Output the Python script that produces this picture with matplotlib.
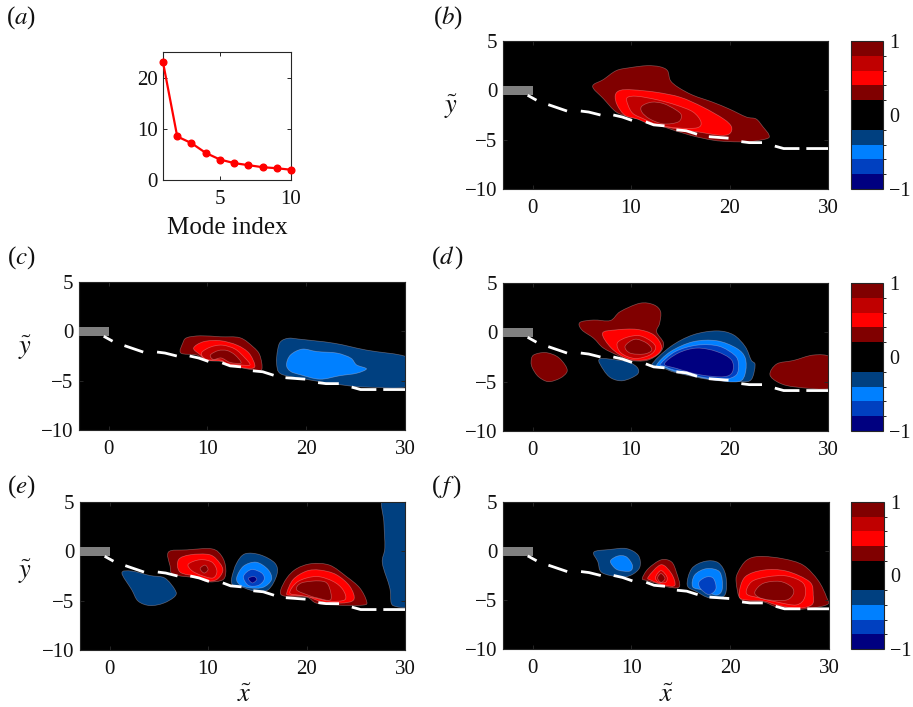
import numpy as np
import matplotlib
matplotlib.use('Agg')
import matplotlib.pyplot as plt
from matplotlib.colors import ListedColormap, BoundaryNorm
from matplotlib.cm import ScalarMappable
from matplotlib.patches import Rectangle, PathPatch
from matplotlib.path import Path

plt.rcParams['font.family'] = ['Liberation Serif', 'DejaVu Serif']
plt.rcParams['mathtext.fontset'] = 'stix'

# (a) mode spectrum
mode_index = [1, 2, 3, 4, 5, 6, 7, 8, 9, 10]
mode_energy = [23, 8.5, 7.2, 5.3, 4, 3.3, 2.9, 2.5, 2.3, 2]

# wall line, nan marks the gaps between dashes
nan = float('nan')
wall_x = [-0.5, 0.4, nan, 1.6, 3.5, nan, 4.9, 5.7, 6.9, nan, 8.2, 9.1, 10.1, nan, 11.5, 12.3, 13.4, nan,
          14.6, 15.6, 16.7, nan, 17.9, 19.9, nan, 21.2, 22, 23.3, nan, 24.6, 25.5, 27.1, nan, 27.8, 30]
wall_y = [-0.5, -1.0, nan, -1.45, -2.1, nan, -2.1, -2.2, -2.5, nan, -2.5, -2.7, -3.05, nan, -3.2, -3.5, -3.6, nan,
          -4, -4.1, -4.45, nan, -4.7, -4.85, nan, -5.2, -5.3, -5.3, nan, -5.65, -5.9, -5.9, nan, -5.9, -5.9]

# colour levels
levels = [-1, -0.8, -0.6, -0.4, -0.2, 0, 0.2, 0.4, 0.6, 0.8, 1]
level_colors = ['#000080', '#0040c0', '#0080ff', '#004080', '#000000',
                '#000000', '#800000', '#ff0000', '#c00000', '#800000']

# contour outlines (x, y), with the level they bound
b1 = [(6.1,0.4),(7.2,1.1),(8.5,2.0),(9.9,2.3),(11.6,2.5),(12.9,2.4),(13.7,2.0),(14.0,1.0),(14.8,0.3),(16.3,-0.5),(18.3,-1.2),(20,-1.9),(21.7,-2.7),(22.7,-2.9),(23.4,-3.7),(24,-4.5),(23.8,-4.9),(22,-5.2),(20,-5.2),(18.3,-5.05),(16,-4.55),(13.3,-3.7),(11.6,-3.1),(9.9,-2.7),(8.5,-2.2),(7.2,-0.85)]
b2 = [(8.4,-0.5),(8.9,0),(10.2,0.05),(12.6,-0.2),(15,-0.7),(17.3,-1.7),(19.4,-2.9),(20.2,-3.7),(20,-4.4),(19,-4.55),(16.7,-4.2),(14.3,-3.85),(11.9,-3.4),(10.6,-2.9),(9.4,-2.55),(8.6,-1.5)]
b3 = [(9.6,-0.75),(10.6,-0.6),(12.6,-0.95),(14.6,-1.5),(16.3,-2.2),(17.1,-3.2),(16.7,-3.8),(14.6,-3.8),(12.6,-3.45),(11.3,-2.9),(10.2,-2.35),(9.7,-1.5)]
b4 = [(11.1,-1.6),(12.1,-1.2),(13.3,-1.35),(14.5,-1.95),(15.1,-2.5),(14.8,-3.2),(13.3,-3.4),(11.9,-2.9),(11.1,-2.2)]
b_shapes = [b1, b2, b3, b4]
b_levels = [0.3, 0.5, 0.7, 0.9]

c1 = [(7.3,-2.2),(7.5,-1.2),(7.9,-0.65),(9.3,-0.45),(11.3,-0.55),(13.3,-0.65),(14.6,-1.55),(15.3,-2.4),(15.5,-3.85),(14.6,-3.9),(12.6,-3.5),(11.6,-3.05),(9.9,-2.95),(8.9,-2.4)]
c2 = [(8.6,-1.7),(9.6,-1.05),(11.3,-0.95),(13,-1.4),(14.2,-2.2),(14.8,-3.4),(14.5,-3.75),(13.3,-3.65),(12,-3.4),(11.5,-3.05),(9.9,-2.9),(9.3,-2.4)]
c3 = [(9.4,-2.2),(10.3,-1.6),(11.5,-1.4),(12.8,-1.8),(13.8,-2.7),(14.3,-3.4),(13.3,-3.4),(12,-3.25),(11.3,-2.9),(9.9,-2.85)]
c4 = [(10.3,-2.4),(11.1,-1.95),(12,-1.95),(12.8,-2.4),(13.4,-3.2),(12.3,-3.15),(11.4,-2.7),(10.6,-2.85)]
c5 = [(17.1,-1.9),(17.4,-1.05),(18.2,-0.7),(19.4,-0.8),(22.8,-1.2),(26.1,-1.9),(30.2,-2.6),(30.4,-4),(30.2,-5.6),(26.1,-5.65),(24.1,-5.5),(21.4,-5.1),(19.4,-4.75),(17.4,-4.3),(17,-3.25)]
c6 = [(18,-3.4),(18.4,-2.4),(19.6,-1.8),(21.1,-2.05),(23.1,-2.2),(24.5,-2.7),(25.1,-3.4),(26.1,-3.8),(25.1,-4.25),(23.4,-4.5),(21.4,-4.85),(19.4,-4.4),(18.4,-4.05)]
c_shapes = [c1, c2, c3, c4, c5, c6]
c_levels = [0.3, 0.5, 0.7, 0.9, -0.3, -0.5]

d1 = [(-0.15,-3),(0.1,-2.3),(1.3,-2.05),(2.5,-2.45),(3.3,-3.3),(3.5,-4),(2.8,-4.65),(1.6,-5),(0.6,-4.5),(0,-3.65)]
d2 = [(4.8,1),(6.2,1.25),(7.9,1.2),(8.9,2.1),(10.9,2.95),(12.3,2.8),(13,2.1),(12.9,0.9),(12.6,0.05),(13.3,-1.1),(12.9,-2.1),(11.6,-2.85),(9.9,-2.85),(8.9,-2.45),(7.2,-1.6),(6.2,-0.6),(5,0.25)]
d3 = [(7.1,-0.1),(8.5,0.25),(10.6,0.3),(12.3,-0.25),(13.1,-1.45),(12.6,-2.3),(11.3,-2.8),(9.6,-2.65),(8,-1.6)]
d4 = [(8.6,-1.1),(9.6,-0.5),(10.9,-0.35),(12.1,-0.95),(12.5,-1.6),(11.9,-2.3),(10.4,-2.65),(9,-2.1)]
d5 = [(9.4,-1.4),(10.4,-0.7),(11.6,-1.1),(12.1,-1.8),(11.3,-2.2),(9.9,-2.1)]
d6 = [(6.8,-2.7),(8.9,-2.85),(9.9,-3.05),(10.7,-3.65),(10.6,-4.3),(9.2,-4.9),(8,-4.65),(7.2,-3.8)]
d7 = [(12.1,-3.3),(14,-1.45),(16.3,-0.25),(18.7,0.15),(20.4,-0.25),(21.6,-1.45),(22.2,-2.8),(22.6,-3.3),(22.2,-4.8),(21,-5),(18,-4.8),(14.6,-4.1),(13.3,-3.65)]
d8 = [(12.6,-3.3),(14,-1.95),(16.3,-0.95),(18.7,-0.85),(20.7,-1.6),(21.6,-2.6),(21.6,-4.15),(20.9,-5),(18.3,-4.8),(14.6,-4),(13.3,-3.5)]
d9 = [(13,-3.2),(14.5,-1.95),(16.7,-1.3),(18.9,-1.4),(20.5,-2.3),(20.9,-3.15),(20.7,-4.3),(19.4,-4.75),(17,-4.5),(14.3,-3.8),(13.4,-3.45)]
d10 = [(13.4,-3.2),(14.8,-2.1),(16.7,-1.6),(18.7,-1.95),(20.2,-2.8),(20.3,-4),(19.4,-4.5),(17,-4.3),(14.6,-3.65)]
d11 = [(24.1,-4.3),(24.8,-3.2),(26.5,-2.85),(28.5,-2.3),(30.2,-2.5),(30.4,-4),(30.2,-5.65),(26.8,-5.55),(25.1,-5.15)]
d_shapes = [d1, d2, d3, d4, d5, d6, d7, d8, d9, d10, d11]
d_levels = [0.3, 0.3, 0.5, 0.7, 0.9, -0.3, -0.3, -0.5, -0.7, -0.9, 0.3]

e1 = [(1.25,-2.2),(2.25,-2),(4.1,-2.45),(5.6,-2.7),(6.65,-3.9),(6.65,-4.55),(5.5,-5.25),(4.1,-5.5),(2.9,-5.05),(2.25,-3.9)]
e2 = [(6,-0.05),(7.85,0.15),(10.4,0.25),(11.4,-0.5),(11.8,-1.7),(11.55,-2.85),(10,-3.1),(8.85,-2.7),(6.5,-2.35),(6.15,-1.5)]
e3 = [(7,-0.85),(8.2,-0.35),(10.2,-0.35),(11.2,-1.2),(11.5,-2),(10.9,-2.85),(9.9,-3),(8.85,-2.55),(7.15,-2.1)]
e4 = [(8,-1.3),(9.2,-0.85),(10.4,-1.1),(10.9,-2),(10.5,-2.7),(9.35,-2.45),(8.35,-1.95)]
e5 = [(9.2,-1.75),(9.7,-1.4),(10,-1.85),(9.6,-2.2)]
e6 = [(12.4,-2.7),(12.9,-1.2),(13.75,-0.25),(15.3,-0.35),(16.8,-1.2),(17,-2.35),(16.1,-3.9),(14.6,-4),(13.25,-3.55),(12.5,-3.4)]
e7 = [(12.9,-2.7),(13.6,-1.5),(14.9,-1.1),(16.1,-1.85),(16.45,-2.85),(15.6,-3.65),(14.25,-3.7),(13.25,-3.4)]
e8 = [(13.6,-2.55),(14.4,-1.85),(15.45,-2.2),(15.7,-2.85),(15.1,-3.45),(14.1,-3.45)]
e9 = [(14.1,-2.75),(14.65,-2.55),(14.95,-2.85),(14.5,-3.2)]
e10 = [(17.35,-4.05),(18,-2.7),(19,-1.75),(20.5,-1.25),(22.35,-1.4),(24.05,-2.55),(25.4,-3.7),(26.1,-5.05),(25.75,-5.45),(23,-5.45),(21,-5.25),(20,-4.65),(17.8,-4.55)]
e11 = [(18,-4.2),(18.65,-2.85),(20,-2),(21.35,-1.9),(23,-2.35),(24.4,-3.55),(24.8,-4.9),(23.4,-5.25),(21.35,-5.05),(20,-4.55),(18.3,-4.45)]
e12 = [(18.3,-4.2),(19.15,-3.05),(21,-2.55),(22.7,-3.05),(23.7,-3.9),(23.9,-4.9),(22.35,-5.05),(20.7,-4.7),(19.3,-4.45)]
e13 = [(19,-3.9),(19.5,-3.2),(21.35,-3),(22.2,-3.4),(22.45,-4.9),(21,-4.7),(20.2,-4.45)]
e14 = [(27.75,5.4),(30.3,5.4),(30.5,0),(30.3,-5.5),(30,-5.7),(29.1,-5.6),(28.6,-5.25),(28.45,-3.7),(27.7,-1.2),(27.95,0.35),(27.85,3)]
e_shapes = [e1, e2, e3, e4, e5, e6, e7, e8, e9, e10, e11, e12, e13, e14]
e_levels = [-0.3, 0.3, 0.5, 0.7, 0.9, -0.3, -0.5, -0.7, -0.9, 0.3, 0.5, 0.7, 0.9, -0.3]

f1 = [(6.2,-0.1),(7.8,0.15),(9.5,0.25),(10.7,-0.45),(10.85,-1.65),(10,-2.45),(8.8,-2.65),(7,-2.2),(6.6,-1.1)]
f2 = [(7.9,-0.95),(8.65,-0.5),(9.5,-0.6),(10.1,-1.45),(9.85,-2.05),(8.65,-1.95),(8.05,-1.45)]
f3 = [(11.1,-2.8),(11.7,-1.8),(13,-0.9),(14.05,-1.1),(14.55,-2.15),(14.85,-3.65),(13.55,-3.65),(12.55,-3.3),(11.5,-3)]
f4 = [(11.7,-2.65),(13,-1.4),(14.05,-2.3),(14.4,-3.5),(13.4,-3.5),(12,-3)]
f5 = [(12.45,-2.65),(13,-2),(13.6,-2.65),(13.45,-3.2),(12.7,-3.15)]
f6 = [(12.65,-2.75),(13,-2.3),(13.4,-2.8),(13,-3.2)]
f7 = [(15.65,-3.5),(16.1,-1.8),(17.45,-1.05),(18.8,-1.2),(19.55,-2.5),(19.45,-4.5),(17.95,-4.8),(16.6,-4.15)]
f8 = [(16.2,-3.65),(16.4,-2.45),(17.6,-1.8),(18.95,-2.15),(19.2,-3.85),(18.6,-4.5),(17.25,-4)]
f9 = [(16.85,-3.15),(17.6,-2.65),(18.3,-2.8),(18.55,-3.85),(17.85,-4.45),(17,-3.85)]
f10 = [(20.6,-3.15),(20.8,-2.15),(21.65,-0.95),(23,-0.55),(25.4,-0.8),(27.4,-1.45),(28.9,-3),(29.75,-4.7),(29.75,-5.5),(27.05,-5.95),(24.7,-5.7),(23.35,-5.2),(21.15,-5)]
f11 = [(20.9,-4.35),(21.5,-2.65),(23.35,-1.95),(25.7,-2.05),(28.05,-3.15),(28.4,-4.5),(28.25,-5.5),(26.7,-5.85),(24.7,-5.5),(23.35,-5.1),(21.3,-4.95)]
f12 = [(21.65,-4.35),(22.15,-3.15),(23.7,-2.65),(25.7,-2.55),(27.4,-3.3),(27.55,-4.7),(26.7,-5.5),(24.7,-5.2),(23,-4.8)]
f13 = [(22.5,-4.15),(23.35,-3.3),(25,-3.1),(26.2,-3.65),(26.4,-4.35),(25.7,-5),(24,-5),(22.85,-4.7)]
f_shapes = [f1, f2, f3, f4, f5, f6, f7, f8, f9, f10, f11, f12, f13]
f_levels = [-0.3, -0.5, 0.3, 0.5, 0.7, 0.9, -0.3, -0.5, -0.7, 0.3, 0.5, 0.7, 0.9]

W, H = 913, 707
axis_col = '#262626'
cmap = ListedColormap(level_colors)
norm = BoundaryNorm(levels, cmap.N)

fig = plt.figure(figsize=(W / 100, H / 100), dpi=100)


def px_axes(left, top, right, bottom):
    return fig.add_axes([left / W, 1 - bottom / H, (right - left) / W, (bottom - top) / H])


def smooth_path(poly):
    # closed curve through the outline points
    p = np.array(poly, dtype=float)
    verts = [p[0]]
    codes = [Path.MOVETO]
    n = len(p)
    for i in range(n):
        c1 = p[i] + (p[(i + 1) % n] - p[i - 1]) / 6
        c2 = p[(i + 1) % n] - (p[(i + 2) % n] - p[i]) / 6
        verts += [c1, c2, p[(i + 1) % n]]
        codes += [Path.CURVE4] * 3
    return Path(verts, codes)


def style_ticks(ax):
    ax.tick_params(direction='in', top=True, right=True, length=3, width=0.7,
                   labelsize=15, color=axis_col, labelcolor='#111111')
    ax.tick_params(axis='x', pad=7)
    ax.tick_params(axis='y', pad=4)
    for s in ax.spines.values():
        s.set_linewidth(0.8)
        s.set_color(axis_col)


def field_panel(box, shapes, shape_levels):
    ax = px_axes(*box)
    ax.set_facecolor('black')
    for poly, lev in zip(shapes, shape_levels):
        ax.add_patch(PathPatch(smooth_path(poly), facecolor=cmap(norm(lev)),
                               edgecolor=(1, 0.85, 0.85, 0.35), linewidth=0.5))
    ax.add_patch(Rectangle((-3, -0.47), 3, 0.9, facecolor='#808080', edgecolor='none', zorder=3))
    ax.plot(wall_x, wall_y, color='white', lw=2.0, zorder=4, solid_capstyle='butt')
    ax.set_xlim(-3, 30)
    ax.set_ylim(-10, 5)
    ax.set_xticks([0, 10, 20, 30])
    ax.set_yticks([-10, -5, 0, 5])
    ax.set_yticklabels(['\u221210', '\u22125', '0', '5'])
    style_ticks(ax)
    return ax


def colour_bar(left, top, right, bottom):
    cax = px_axes(left, top, right, bottom)
    cb = fig.colorbar(ScalarMappable(norm=norm, cmap=cmap), cax=cax, ticks=[-1, 0, 1], spacing='uniform')
    cb.ax.set_yticklabels(['\u22121', '0', '1'])
    cb.ax.tick_params(length=0, pad=4.5, labelsize=14.5, labelcolor='#111111')
    cb.outline.set_linewidth(0.8)
    cb.outline.set_edgecolor(axis_col)


# (a)
ax_a = px_axes(163, 52, 291, 180)
ax_a.plot(mode_index, mode_energy, '-o', color='#ff0000', lw=1.6, ms=4.8, clip_on=False, zorder=5)
ax_a.set_xlim(1, 10)
ax_a.set_ylim(0, 25)
ax_a.set_xticks([5, 10])
ax_a.set_yticks([0, 10, 20])
style_ticks(ax_a)
fig.text(227 / W, 1 - 228 / H, 'Mode index', fontsize=18, ha='center', va='center', color='#111111')

ax_b = field_panel((503, 41, 828, 189), b_shapes, b_levels)
ax_c = field_panel((79, 282, 405, 430), c_shapes, c_levels)
ax_d = field_panel((503, 283, 828, 431), d_shapes, d_levels)
ax_e = field_panel((80, 502, 405, 650), e_shapes, e_levels)
ax_f = field_panel((503, 502, 829, 649), f_shapes, f_levels)

colour_bar(851, 41, 883, 189)
colour_bar(851, 283, 883, 431)
colour_bar(851, 502, 884, 649)

# axis symbols
for px, py, s in [(451, 107, r'$\tilde{y}$'), (25, 348, r'$\tilde{y}$'), (25, 572, r'$\tilde{y}$'),
                  (244, 696, r'$\tilde{x}$'), (666, 696, r'$\tilde{x}$')]:
    fig.text(px / W, 1 - py / H, s, fontsize=19, ha='center', va='center', color='#111111')

# panel letters
for px, py, s in [(6, 18, r'($a$)'), (433, 18, r'($b$)'), (7, 258, r'($c$)'), (431, 258, r'($d\,$)'),
                  (7, 487, r'($e$)'), (431, 487, r'($\,f\,$)')]:
    fig.text(px / W, 1 - py / H, s, fontsize=18, ha='left', va='center', color='#111111')

plt.savefig('out.png', dpi=100)
